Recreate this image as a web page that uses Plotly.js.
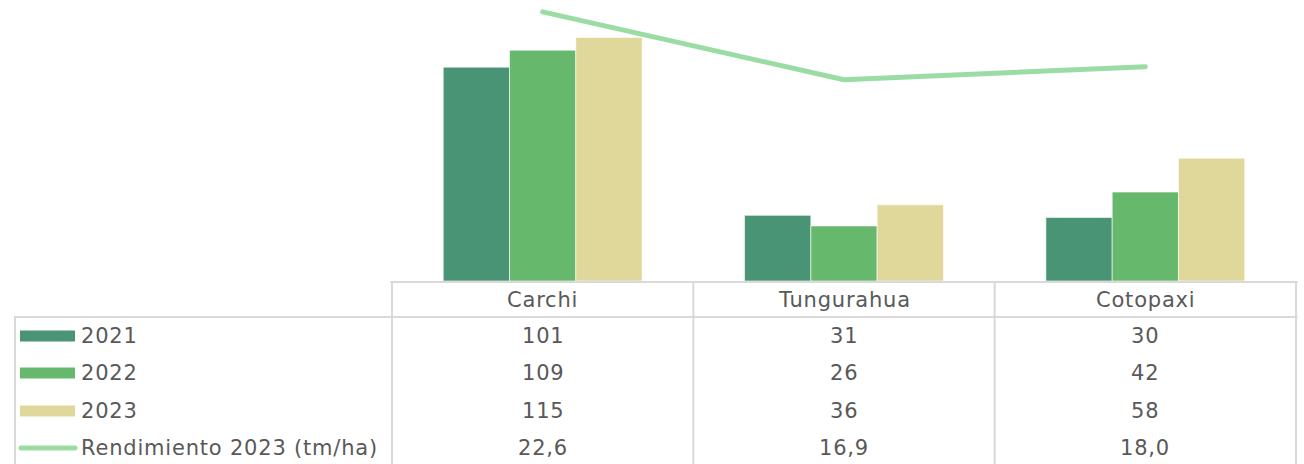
<!DOCTYPE html>
<html><head><meta charset="utf-8">
<script src="https://cdn.plot.ly/plotly-3.0.1.min.js"></script>
<style>
body{margin:0;background:#fff}#c{width:1304px;height:464px}
.annotation-text{letter-spacing:0.8px}
.scatterlayer path.js-line{stroke-linecap:round !important;stroke-linejoin:round !important}
.shapelayer path{stroke-linecap:round}
</style>
</head><body><div id="c"></div>
<script>
const categories = ['Carchi', 'Tungurahua', 'Cotopaxi'];
const v2021 = [101, 31, 30];
const v2022 = [109, 26, 42];
const v2023 = [115, 36, 58];
const rendimiento = [22.6, 16.9, 18.0];
const seriesNames = ['2021', '2022', '2023', 'Rendimiento 2023 (tm/ha)'];

const W = 1304, H = 464;
const FONT = 'DejaVu Sans';
const FS = 21;
const TXT = '#595959';
const GRID = '#d9d9d9';
const colors = ['#4a9476', '#66b96c', '#e0d79b', '#9bdca5'];

const py = y => 1 - y / H;   // pixel row -> paper y
const px = x => x / W;

const traces = [
  {type:'bar', name:seriesNames[0], x:categories, y:v2021, marker:{color:colors[0], line:{color:'#ffffff', width:0.6}}},
  {type:'bar', name:seriesNames[1], x:categories, y:v2022, marker:{color:colors[1], line:{color:'#ffffff', width:0.6}}},
  {type:'bar', name:seriesNames[2], x:categories, y:v2023, marker:{color:colors[2], line:{color:'#ffffff', width:0.6}}},
  {type:'scatter', mode:'lines', name:seriesNames[3], x:categories, y:rendimiento, yaxis:'y2',
   line:{color:colors[3], width:5}}
];

const xl = 391, xr = 1297, base = 281;
const rowY = [336, 373, 411, 448];
const headerY = 300;

const shapes = [];
const annotations = [];
const lineStyle = {color:GRID, width:2};
shapes.push({type:'line', xref:'paper', yref:'paper', x0:px(xl), x1:px(xr), y0:py(282), y1:py(282), line:lineStyle});
shapes.push({type:'line', xref:'paper', yref:'paper', x0:px(15), x1:px(xr), y0:py(317), y1:py(317), line:lineStyle});
shapes.push({type:'line', xref:'paper', yref:'paper', x0:px(15), x1:px(15), y0:py(317), y1:py(H+4), line:lineStyle});
for (let i = 0; i <= categories.length; i++) {
  shapes.push({type:'line', xref:'x', yref:'paper', x0:i-0.5, x1:i-0.5, y0:py(282), y1:py(H+4), line:lineStyle});
}
categories.forEach((c, i) => {
  annotations.push({xref:'x', yref:'paper', x:c, y:py(headerY), text:c, showarrow:false,
    xanchor:'center', yanchor:'middle', font:{family:FONT, size:FS, color:TXT}});
});
const fmtInt = v => String(v);
const fmtDec = v => v.toFixed(1).replace('.', ',');
const rows = [v2021.map(fmtInt), v2022.map(fmtInt), v2023.map(fmtInt), rendimiento.map(fmtDec)];
rows.forEach((r, ri) => {
  r.forEach((t, ci) => {
    annotations.push({xref:'x', yref:'paper', x:categories[ci], y:py(rowY[ri]), text:t, showarrow:false,
      xanchor:'center', yanchor:'middle', font:{family:FONT, size:FS, color:TXT}});
  });
  annotations.push({xref:'paper', yref:'paper', x:px(79), y:py(rowY[ri]), text:seriesNames[ri], showarrow:false,
    xanchor:'left', yanchor:'middle', font:{family:FONT, size:FS, color:TXT}});
  if (ri < 3) {
    shapes.push({type:'rect', xref:'paper', yref:'paper', x0:px(20), x1:px(75), y0:py(rowY[ri]-5.5), y1:py(rowY[ri]+5.5),
      fillcolor:colors[ri], line:{width:0}});
  } else {
    shapes.push({type:'line', xref:'paper', yref:'paper', x0:px(21), x1:px(75), y0:py(rowY[ri]), y1:py(rowY[ri]),
      line:{color:colors[3], width:5}});
  }
});

const layout = {
  width:W, height:H, margin:{l:0, r:0, t:0, b:0},
  paper_bgcolor:'#ffffff', plot_bgcolor:'rgba(0,0,0,0)',
  showlegend:false, barmode:'group', bargap:0.34, bargroupgap:0,
  font:{family:FONT, color:TXT},
  xaxis:{domain:[px(xl), px(xr)], showticklabels:false, ticks:'', showgrid:false, zeroline:false, showline:false, fixedrange:true},
  yaxis:{domain:[py(base), 1], range:[0, 280/2.11], showticklabels:false, showgrid:false, zeroline:false, showline:false, ticks:''},
  yaxis2:{overlaying:'y', side:'right', range:[0, 23.6], showticklabels:false, showgrid:false, zeroline:false, showline:false, ticks:''},
  shapes, annotations
};
Plotly.newPlot('c', traces, layout, {displayModeBar:false, staticPlot:true});
</script></body></html>
